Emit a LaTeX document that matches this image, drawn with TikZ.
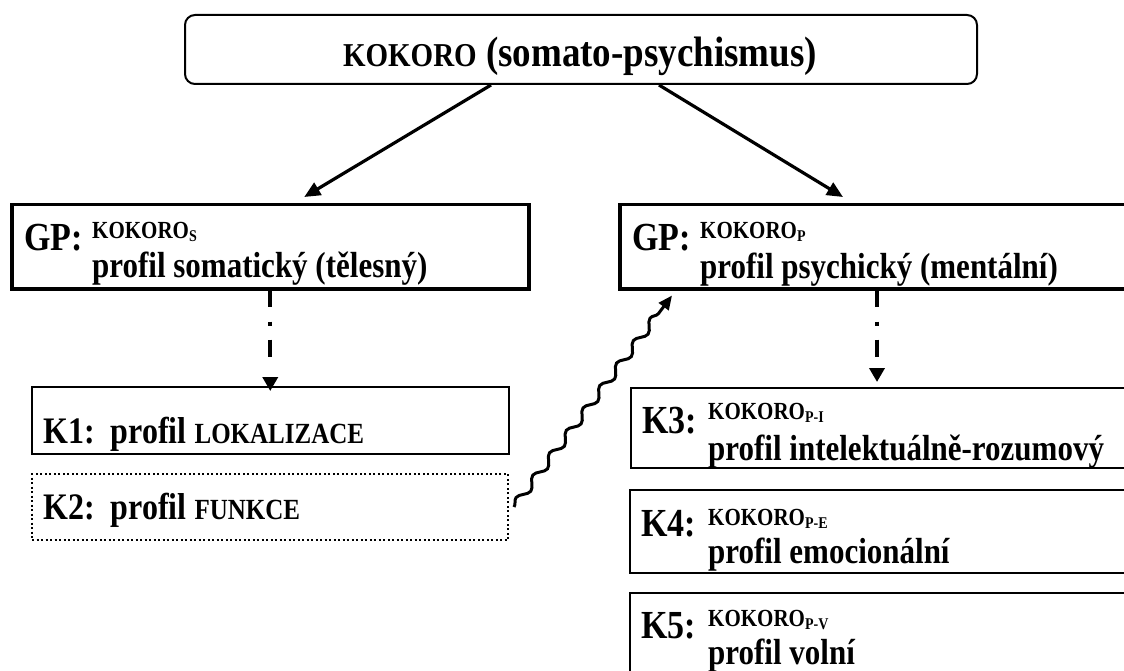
\documentclass[tikz,border=0pt]{standalone}
\usepackage{fontspec}
\usepackage{graphicx}
\setmainfont{Liberation Serif}
\usetikzlibrary{arrows.meta,decorations.pathmorphing}
\newcommand\fsz[1]{\fontsize{#1}{#1}\selectfont}
\newcommand\tall[2][1.17]{\scalebox{1}[#1]{#2}}
\newcommand\kok[1]{{\fsz{21}KOKORO}{\fsz{14}\raisebox{-3pt}{#1}}}
\tikzset{
  box/.style={draw, line width=2pt, rectangle, anchor=north west, inner sep=0pt},
  gpbox/.style={box, line width=3.5pt},
  lbl/.style={anchor=base west, inner sep=0pt, font=\bfseries},
  mainarrow/.style={line width=3.2pt, -{Triangle[length=16pt,width=14pt]}},
  dasharrow/.style={line width=4pt, dash pattern=on 16pt off 15pt on 4pt off 14pt on 17pt off 40pt,
    -{Triangle[length=14pt,width=15pt]}},
  wavearrow/.style={line width=3pt, -{Triangle[length=14pt,width=12pt]},
    decorate, decoration={snake, amplitude=4pt, segment length=28pt, post length=12pt}}
}
\begin{document}
\begin{tikzpicture}[x=1pt, y=-1pt]
\useasboundingbox (0,0) rectangle (1124,671);
\clip (0,0) rectangle (1124,671);
\fill[white] (0,0) rectangle (1124,671);

% boxes
\node[box, rounded corners=10pt, minimum width=792pt, minimum height=69pt] (top) at (184,14) {};
\node[gpbox, minimum width=517pt, minimum height=84pt] (gps) at (10,203) {};
\node[gpbox, minimum width=518pt, minimum height=84pt] (gpp) at (618,203) {};
\node[box, minimum width=477pt, minimum height=67pt] (k1) at (31,386) {};
\node[box, line width=2pt, dash pattern=on 2pt off 2.5pt, minimum width=476pt, minimum height=66pt] (k2) at (31,473) {};
\node[box, minimum width=520pt, minimum height=80pt] (k3) at (630,387) {};
\node[box, minimum width=520pt, minimum height=83pt] (k4) at (629,489) {};
\node[box, minimum width=520pt, minimum height=100pt] (k5) at (629,592) {};

% texts
\node[lbl, anchor=base, font=\bfseries\fsz{37}] (toptxt) at (580,67) {\tall[1.15]{{\fsz{29}KOKORO} (somato-psychismus)}};

\node[lbl] (gpsa) at (24,250) {\tall{\fsz{34}GP:}};
\node[lbl] (gpsb) at (92,238) {\tall{\kok{S}}};
\node[lbl] (gpsc) at (92,277) {\tall{\fsz{31}profil somatický (tělesný)}};

\node[lbl] (gppa) at (632,250) {\tall{\fsz{34}GP:}};
\node[lbl] (gppb) at (700,238) {\tall{\kok{P}}};
\node[lbl] (gppc) at (700,278) {\tall{\fsz{31}profil psychický (mentální)}};

\node[lbl] (k1t) at (43,443) {\tall{\fsz{32}K1:\hspace{0.5em}profil {\fsz{25}LOKALIZACE}}};
\node[lbl] (k2t) at (43,519) {\tall{\fsz{32}K2:\hspace{0.5em}profil {\fsz{25}FUNKCE}}};

\node[lbl] (k3a) at (642,433) {\tall{\fsz{34}K3:}};
\node[lbl] (k3b) at (708,419) {\tall{\kok{P-I}}};
\node[lbl] (k3c) at (708,460) {\tall{\fsz{31}profil intelektuálně-rozumový}};

\node[lbl] (k4a) at (641,536) {\tall{\fsz{34}K4:}};
\node[lbl] (k4b) at (708,525) {\tall{\kok{P-E}}};
\node[lbl] (k4c) at (708,563) {\tall{\fsz{31}profil emocionální}};

\node[lbl] (k5a) at (641,638) {\tall{\fsz{34}K5:}};
\node[lbl] (k5b) at (708,626) {\tall{\kok{P-V}}};
\node[lbl] (k5c) at (708,664) {\tall{\fsz{31}profil volní}};

% connectors
\draw[mainarrow] ([xshift=-90pt]top.south) -- ([shift={(34,-6)}]gps.north);
\draw[mainarrow] ([xshift=78pt]top.south) -- ([shift={(225,-6)}]gpp.north west);
\draw[dasharrow] (gps.south) -- ([yshift=-5pt]k1.north -| gps.south);
\draw[dasharrow] ([xshift=259pt]gpp.south west) -- ([shift={(259,-5)}]gpp.south west |- k3.north);
\coordinate (wavetip) at ([shift={(54,5)}]gpp.south west);
\draw[wavearrow] ([xshift=5pt]k2.east) -- (wavetip);
\end{tikzpicture}
\end{document}
